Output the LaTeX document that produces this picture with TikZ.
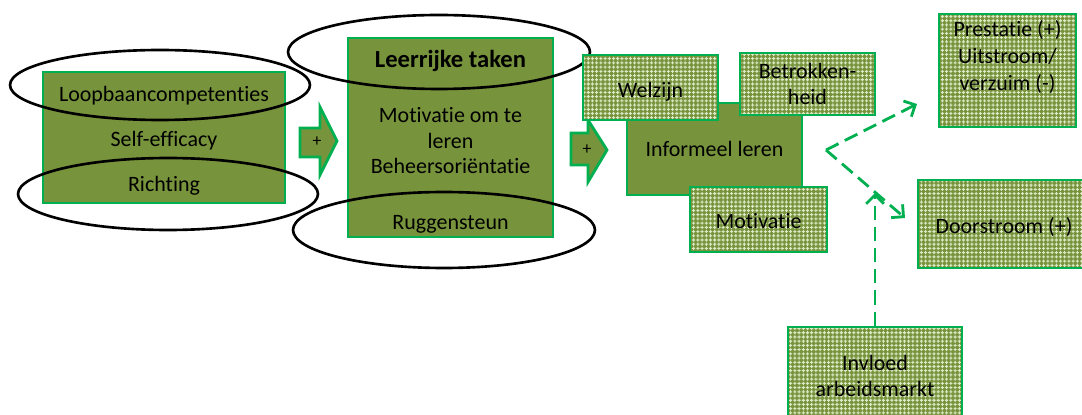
\documentclass[tikz,border=0pt]{standalone}
\usepackage{fontspec}
\setmainfont{Carlito}[Ligatures=NoCommon]
\usepackage{tikz}
\usetikzlibrary{positioning,patterns,arrows.meta}
\definecolor{olivebox}{HTML}{77933C}
\definecolor{greenline}{HTML}{00B050}
\definecolor{dotlight}{HTML}{DCE8C6}
\newcommand{\kop}[1]{{\fontsize{14}{15}\selectfont\bfseries #1}}
\newcommand{\zak}[2]{\raisebox{-#1}[\height][\depth]{#2}}
\pgfdeclarepatternformonly{plusgrid}{\pgfqpoint{-0.1pt}{-0.1pt}}{\pgfqpoint{2.5pt}{2.5pt}}{\pgfqpoint{2.4pt}{2.4pt}}{%
  \pgfpathrectangle{\pgfqpoint{0.3pt}{0.9pt}}{\pgfqpoint{1.8pt}{0.6pt}}%
  \pgfpathrectangle{\pgfqpoint{0.9pt}{0.3pt}}{\pgfqpoint{0.6pt}{1.8pt}}%
  \pgfusepath{fill}}

\begin{document}
\begin{tikzpicture}[x=0.02cm,y=-0.02cm,font=\fontsize{12.5}{14.5}\selectfont,
  box/.style={draw=greenline,line width=1.6pt,fill=olivebox,align=center,inner sep=0pt},
  dotbox/.style={box,preaction={fill=olivebox},pattern=plusgrid,pattern color=dotlight},
  oval/.style={draw=black,line width=1.5pt},
  blockarrow/.style={draw=greenline,line width=1.6pt,fill=olivebox,line join=miter},
  flow/.style={draw=greenline,line width=1.6pt,dash pattern=on 8pt off 4pt,-{Straight Barb[length=5pt,width=10pt]}}]
  \useasboundingbox (0,0) rectangle (1082,415);

  % left block
  \node[box,minimum width=4.84cm,minimum height=2.62cm] (comp) at (164,137.5) {};
  \node[align=center] (comptekst) at ([yshift=-0.06cm]comp.center)
    {Loopbaancompetenties\\[11pt]Self-efficacy\\[11pt]Richting};

  \draw[blockarrow] (300,128) -- (320,128) -- (320,107) -- (337,141) -- (320,175) -- (320,157) -- (300,157) -- cycle;
  \node[font=\fontsize{10}{12}\selectfont] (plusA) at (317,142) {+};

  % middle block
  \node[box,minimum width=4.1cm,minimum height=3.98cm] (taken) at (450.5,137.5) {};
  \node[align=center] (takentekst) at ([yshift=-0.08cm]taken.center)
    {\kop{Leerrijke taken}\\[17pt]Motivatie om te\\leren\\Beheersoriëntatie\\[17pt]Ruggensteun};

  \draw[blockarrow] (571,133) -- (588,133) -- (588,120) -- (607,150) -- (588,182) -- (588,165) -- (571,165) -- cycle;
  \node[font=\fontsize{10}{12}\selectfont] (plusB) at (587,150) {+};

  % ovals
  \draw[oval] (160,85) ellipse [x radius=3cm, y radius=0.7cm];
  \draw[oval] (168,194) ellipse [x radius=3cm, y radius=0.72cm];
  \draw[oval] (439,52) ellipse [x radius=3.02cm, y radius=0.74cm];
  \draw[oval] (444,230) ellipse [x radius=3.02cm, y radius=0.76cm];

  % informeel leren
  \node[box,minimum width=3.5cm,minimum height=1.84cm] (informeel) at (714.5,149) {Informeel leren};
  \node[dotbox,minimum width=2.7cm,minimum height=1.3cm] (welzijn) at (650.5,87.5) {\zak{2.3pt}{Welzijn}};
  \node[dotbox,minimum width=2.7cm,minimum height=1.24cm] (betrok) at (807.5,84) {Betrokken-\\heid};
  \node[dotbox,minimum width=2.74cm,minimum height=1.3cm] (motiv) at (758.5,219.5) {\zak{1pt}{Motivatie}};

  % uitkomsten
  \node[dotbox,minimum width=2.74cm,minimum height=2.26cm] (prestatie) at (1007.5,70.5) {};
  \node[align=center,font=\fontsize{12.5}{15.4}\selectfont] (prestatietekst) at (1007.5,57)
    {Prestatie (+)\\Uitstroom/\\verzuim (-)};
  \node[dotbox,minimum width=3.44cm,minimum height=1.76cm] (doorstroom) at (1004,224) {\zak{1.7pt}{Doorstroom (+)}};
  \node[dotbox,minimum width=3.48cm,minimum height=1.96cm] (invloed) at (875,376) {Invloed\\arbeidsmarkt};

  \coordinate (split) at (826,150);
  \coordinate (toPrest) at (917,104);
  \coordinate (toDoor) at (905,218);
  \coordinate (toSplit) at (875,193);
  \draw[flow] (split) -- (toPrest);
  \draw[flow] (split) -- (toDoor);
  \draw[flow] (invloed.north) -- (toSplit);
\end{tikzpicture}
\end{document}
